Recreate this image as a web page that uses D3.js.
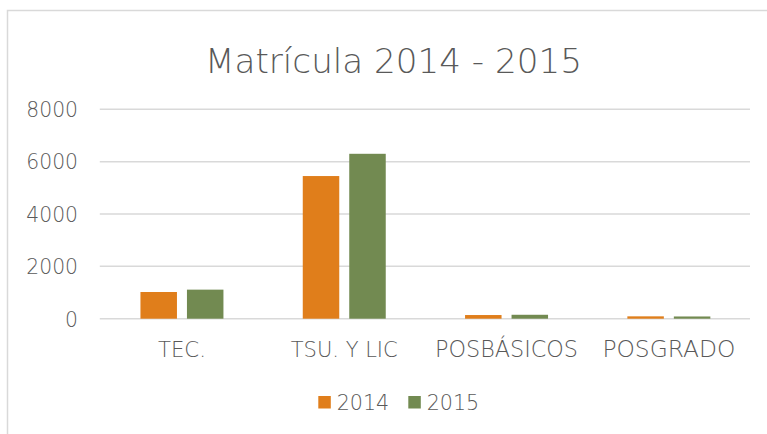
<!DOCTYPE html>
<html>
<head>
<meta charset="utf-8">
<script src="https://cdn.jsdelivr.net/npm/d3@7"></script>
<style>
  body { margin: 0; background: #fff; }
  svg text { font-family: "DejaVu Sans", sans-serif; font-weight: 200; fill: #595959; }
</style>
</head>
<body>
<div id="chart"></div>
<script>
const categories = ["TEC.", "TSU. Y LIC", "POSBÁSICOS", "POSGRADO"];
const series = ["2014", "2015"];
const values2014 = [1020, 5450, 140, 90];
const values2015 = [1110, 6300, 150, 85];
const yTicks = [0, 2000, 4000, 6000, 8000];
const colors = ["#e07e1b", "#728a51"];
const title = "Matrícula 2014 - 2015";

const width = 767, height = 434;
const margin = { top: 109.3, bottom: 434 - 318.7, left: 100.8, right: 767 - 750 };

const svg = d3.select("#chart").append("svg")
  .attr("width", width)
  .attr("height", height);

// shrink/grow text until it spans the given width
function fitText(sel, target, base) {
  sel.style("font-size", base + "px");
  const w = sel.node().getComputedTextLength();
  sel.style("font-size", (base * target / w).toFixed(2) + "px");
  return sel;
}

// chart frame (right and bottom edges fall outside the picture)
svg.append("path")
  .attr("d", "M7.5,434 V10.5 H767")
  .attr("fill", "none")
  .attr("stroke", "#d9d9d9")
  .attr("stroke-width", 1.5);

const x = d3.scaleBand().domain(categories).range([margin.left, width - margin.right]);
const xInner = d3.scaleBand().domain(series).range([0, x.bandwidth()])
  .paddingInner(0.215).paddingOuter(0.853);
const y = d3.scaleLinear().domain([0, 8000]).range([height - margin.bottom, margin.top]);

// gridlines
svg.append("g")
  .selectAll("line")
  .data(yTicks)
  .enter().append("line")
  .attr("x1", margin.left - 1)
  .attr("x2", width - margin.right)
  .attr("y1", d => y(d))
  .attr("y2", d => y(d))
  .attr("stroke", "#d9d9d9")
  .attr("stroke-width", 1.5);

// y labels
const yAxis = svg.append("g")
  .attr("transform", `translate(78,0)`)
  .call(d3.axisLeft(y).tickValues(yTicks).tickSize(0).tickPadding(0).tickFormat(d3.format("d")));
yAxis.select(".domain").remove();
const ref = yAxis.select(".tick:last-of-type text").attr("font-family", null);
fitText(ref, 51.7, 20);
yAxis.selectAll("text")
  .attr("font-family", null)
  .style("font-size", ref.style("font-size"))
  .attr("dy", "0.36em");

// bars
const data = categories.map((c, i) => ({ cat: c, vals: [values2014[i], values2015[i]] }));
const groups = svg.append("g").attr("class", "bars")
  .selectAll("g")
  .data(data)
  .enter().append("g")
  .attr("transform", d => `translate(${x(d.cat)},0)`);
groups.selectAll("rect")
  .data(d => d.vals.map((v, j) => ({ s: series[j], v: v, j: j })))
  .enter().append("rect")
  .attr("x", d => xInner(d.s))
  .attr("width", xInner.bandwidth())
  .attr("y", d => y(d.v))
  .attr("height", d => y(0) - y(d.v))
  .attr("fill", d => colors[d.j]);

// x labels
const xAxis = svg.append("g")
  .attr("transform", `translate(0,${y(0)})`)
  .call(d3.axisBottom(x).tickSize(0).tickPadding(0));
xAxis.select(".domain").remove();
const catWidths = [48, 107, 143, 133];
xAxis.selectAll("text")
  .attr("font-family", null)
  .attr("dy", null)
  .attr("y", 38)
  .each(function(d, i) { fitText(d3.select(this), catWidths[i], 20); });

// title
fitText(svg.append("text")
  .attr("x", 393.5)
  .attr("y", 73)
  .attr("text-anchor", "middle")
  .text(title), 377, 36);

// legend
const legend = svg.append("g").attr("class", "legend")
  .selectAll("g")
  .data(series)
  .enter().append("g")
  .attr("transform", (d, i) => `translate(${318.3 + i * 90},0)`);
legend.append("rect")
  .attr("y", 396)
  .attr("width", 12.5)
  .attr("height", 12.5)
  .attr("fill", (d, i) => colors[i]);
legend.append("text")
  .attr("x", 18.4)
  .attr("y", 410)
  .text(d => d)
  .each(function() { fitText(d3.select(this), 52.6, 20); });
</script>
</body>
</html>
